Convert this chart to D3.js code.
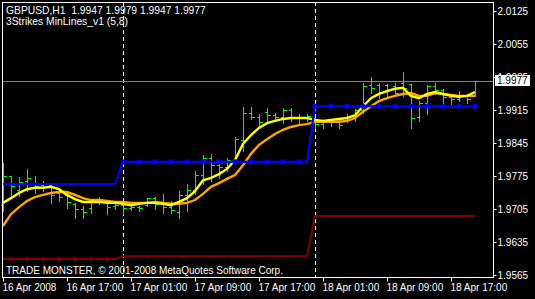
<!DOCTYPE html>
<html><head><meta charset="utf-8">
<script src="https://cdn.jsdelivr.net/npm/d3@7"></script>
<style>
html,body{margin:0;padding:0;background:#000;}
svg{display:block;}
text{font-family:"Liberation Sans",Arial,sans-serif;font-size:10px;fill:#fff;}
</style></head><body>
<svg id="c" width="535" height="299"></svg>
<script>
// ---------- data ----------
const symbolTitle = "GBPUSD,H1  1.9947 1.9979 1.9947 1.9977";
const indicatorTitle = "3Strikes MinLines_v1 (5,8)";
const copyright = "TRADE MONSTER, \u00A9 2001-2008 MetaQuotes Software Corp.";

const firstBar = new Date(Date.UTC(2008, 3, 16, 9));
const lastBar = new Date(Date.UTC(2008, 3, 18, 20));
const times = d3.utcHour.range(firstBar, d3.utcHour.offset(lastBar, 1));

const open = [1.9713,1.9775,1.9745,1.9764,1.9760,1.9756,1.9756,1.9739,1.9735,1.9716,
1.9705,1.9707,1.9724,1.9720,1.9711,1.9713,1.9707,1.9709,1.9713,1.9728,
1.9716,1.9709,1.9699,1.9735,1.9745,1.9777,1.9813,1.9798,1.9794,1.9809,
1.9851,1.9909,1.9900,1.9911,1.9904,1.9900,1.9915,1.9900,1.9898,1.9898,
1.9885,1.9890,1.9892,1.9894,1.9902,1.9915,1.9968,1.9968,1.9968,1.9966,
1.9972,1.9970,1.9900,1.9930,1.9966,1.9957,1.9943,1.9938,1.9945,1.9947];
const high = [1.9805,1.9777,1.9775,1.9792,1.9777,1.9766,1.9760,1.9750,1.9745,1.9720,
1.9713,1.9728,1.9733,1.9724,1.9720,1.9720,1.9713,1.9713,1.9730,1.9733,
1.9739,1.9724,1.9745,1.9760,1.9788,1.9822,1.9824,1.9811,1.9815,1.9860,
1.9923,1.9923,1.9909,1.9921,1.9911,1.9921,1.9921,1.9909,1.9909,1.9900,
1.9894,1.9896,1.9900,1.9909,1.9919,1.9974,1.9987,1.9974,1.9972,1.9974,
1.9998,1.9972,1.9936,1.9970,1.9974,1.9962,1.9951,1.9957,1.9951,1.9979];
const low = [1.9703,1.9730,1.9735,1.9745,1.9741,1.9745,1.9720,1.9724,1.9709,1.9688,
1.9688,1.9699,1.9718,1.9696,1.9707,1.9696,1.9705,1.9703,1.9713,1.9707,
1.9699,1.9699,1.9688,1.9703,1.9739,1.9760,1.9766,1.9773,1.9788,1.9805,
1.9830,1.9898,1.9879,1.9894,1.9898,1.9890,1.9894,1.9890,1.9894,1.9879,
1.9879,1.9883,1.9879,1.9892,1.9894,1.9911,1.9953,1.9943,1.9943,1.9947,
1.9947,1.9879,1.9894,1.9909,1.9951,1.9930,1.9930,1.9936,1.9932,1.9947];
const close = [1.9775,1.9754,1.9762,1.9771,1.9754,1.9760,1.9735,1.9730,1.9720,1.9705,
1.9699,1.9724,1.9726,1.9709,1.9713,1.9707,1.9709,1.9707,1.9728,1.9716,
1.9709,1.9703,1.9735,1.9745,1.9777,1.9813,1.9798,1.9794,1.9809,1.9853,
1.9909,1.9900,1.9890,1.9904,1.9900,1.9915,1.9900,1.9898,1.9902,1.9885,
1.9890,1.9892,1.9883,1.9902,1.9915,1.9966,1.9962,1.9953,1.9957,1.9951,
1.9962,1.9898,1.9930,1.9966,1.9957,1.9943,1.9938,1.9945,1.9938,1.9977];

const maFast = [1.9718,1.9728,1.9739,1.9747,1.9750,1.9750,1.9752,1.9747,1.9735,1.9726,
1.9720,1.9720,1.9720,1.9718,1.9718,1.9716,1.9713,1.9716,1.9718,1.9718,
1.9716,1.9713,1.9720,1.9728,1.9743,1.9766,1.9771,1.9779,1.9790,1.9809,
1.9843,1.9862,1.9877,1.9887,1.9892,1.9896,1.9898,1.9898,1.9898,1.9894,
1.9892,1.9894,1.9896,1.9898,1.9904,1.9923,1.9940,1.9949,1.9955,1.9960,
1.9962,1.9945,1.9940,1.9949,1.9953,1.9949,1.9945,1.9943,1.9945,1.9953];
const maSlow = [1.9669,1.9694,1.9709,1.9722,1.9730,1.9735,1.9739,1.9741,1.9741,1.9735,
1.9728,1.9724,1.9724,1.9722,1.9720,1.9720,1.9718,1.9718,1.9718,1.9720,
1.9718,1.9716,1.9716,1.9718,1.9724,1.9737,1.9752,1.9760,1.9769,1.9777,
1.9798,1.9822,1.9841,1.9853,1.9864,1.9873,1.9879,1.9883,1.9885,1.9890,
1.9890,1.9890,1.9890,1.9892,1.9898,1.9911,1.9923,1.9934,1.9940,1.9945,
1.9949,1.9951,1.9945,1.9945,1.9951,1.9949,1.9947,1.9945,1.9945,1.9945];

const strikeHigh = [1.9758,1.9758,1.9758,1.9758,1.9758,1.9758,1.9758,1.9758,1.9758,1.9758,
1.9758,1.9758,1.9758,1.9758,1.9758,1.9805,1.9805,1.9805,1.9805,1.9805,
1.9805,1.9805,1.9805,1.9805,1.9805,1.9805,1.9805,1.9805,1.9805,1.9805,
1.9805,1.9805,1.9805,1.9805,1.9805,1.9805,1.9805,1.9805,1.9805,1.9923,
1.9923,1.9923,1.9923,1.9923,1.9923,1.9923,1.9923,1.9923,1.9923,1.9923,
1.9923,1.9923,1.9923,1.9923,1.9923,1.9923,1.9923,1.9923,1.9923,1.9923];
const strikeLow = [1.9599,1.9599,1.9599,1.9599,1.9599,1.9599,1.9599,1.9599,1.9599,1.9599,
1.9599,1.9599,1.9599,1.9599,1.9599,1.9605,1.9605,1.9605,1.9605,1.9605,
1.9605,1.9605,1.9605,1.9605,1.9605,1.9605,1.9605,1.9605,1.9605,1.9605,
1.9605,1.9605,1.9605,1.9605,1.9605,1.9605,1.9605,1.9605,1.9605,1.9690,
1.9690,1.9690,1.9690,1.9690,1.9690,1.9690,1.9690,1.9690,1.9690,1.9690,
1.9690,1.9690,1.9690,1.9690,1.9690,1.9690,1.9690,1.9690,1.9690,1.9690];
const strikeHighMarkers = [15,17,19,21,23,25,27,29,31,33,35,37,39,41,43,45,47,49,51,53,55,57,59];
const strikeLowMarkers = [1,3,5,7,9,11,13];

const bidPrice = 1.9977;
const priceTicks = [2.0125,2.0055,1.9985,1.9915,1.9845,1.9775,1.9705,1.9635,1.9565];
const timeTicks = ["2008-04-16T09:00Z","2008-04-16T17:00Z","2008-04-17T01:00Z","2008-04-17T09:00Z",
                   "2008-04-17T17:00Z","2008-04-18T01:00Z","2008-04-18T09:00Z","2008-04-18T17:00Z"];
const timeTickLabels = ["16 Apr 2008","16 Apr 17:00","17 Apr 01:00","17 Apr 09:00",
                        "17 Apr 17:00","18 Apr 01:00","18 Apr 09:00","18 Apr 17:00"];
const daySeparators = ["2008-04-17T00:00Z","2008-04-18T00:00Z"];

// ---------- layout ----------
const plot = {left: 2, top: 2, right: 493, bottom: 277};
const svg = d3.select("#c");
svg.append("rect").attr("width",535).attr("height",299).attr("fill","#000");

const x = d3.scaleUtc().domain([firstBar, lastBar]).range([3, 475]);
const y = d3.scaleLinear().domain([1.9565, 2.0125]).range([275, 11]);
const px = v => Math.round(x(v)) + 0.5;
const py = v => Math.round(y(v)) + 0.5;

const bars = times.map((t,i) => ({t, o:open[i], h:high[i], l:low[i], c:close[i]}));

// day separators
svg.append("g").selectAll("line").data(daySeparators).join("line")
  .attr("x1", d => px(new Date(d))).attr("x2", d => px(new Date(d)))
  .attr("y1", plot.top).attr("y2", plot.bottom)
  .attr("stroke","#fff").attr("stroke-dasharray","4,3");

// bid line
svg.append("line").attr("x1",plot.left).attr("x2",plot.right)
  .attr("y1",py(bidPrice)).attr("y2",py(bidPrice))
  .attr("stroke","#778899");

// OHLC bars
const gb = svg.append("g").attr("stroke","#00ff00").attr("shape-rendering","crispEdges");
gb.selectAll(".hl").data(bars).join("line")
  .attr("x1", d => px(d.t)).attr("x2", d => px(d.t))
  .attr("y1", d => py(d.h)).attr("y2", d => py(d.l)+1);
gb.selectAll(".o").data(bars).join("line").attr("class","o")
  .attr("x1", d => px(d.t)-3).attr("x2", d => px(d.t))
  .attr("y1", d => py(d.o)).attr("y2", d => py(d.o));
gb.selectAll(".c").data(bars).join("line").attr("class","c")
  .attr("x1", d => px(d.t)).attr("x2", d => px(d.t)+3)
  .attr("y1", d => py(d.c)).attr("y2", d => py(d.c));

const lineOf = arr => d3.line().x((d,i) => x(times[i])).y(d => y(d))(arr);

// lower strike line (maroon)
svg.append("path").attr("d", lineOf(strikeLow)).attr("fill","none")
  .attr("stroke","#800000").attr("stroke-width",2);
svg.append("g").selectAll("circle").data(strikeLowMarkers).join("circle")
  .attr("cx", i => x(times[i])).attr("cy", i => y(strikeLow[i])).attr("r",2.2)
  .attr("fill","#800000");

// moving averages
svg.append("path").attr("d", lineOf(maSlow)).attr("fill","none")
  .attr("stroke","#ffa500").attr("stroke-width",2.4);
svg.append("path").attr("d", lineOf(maFast)).attr("fill","none")
  .attr("stroke","#ffff00").attr("stroke-width",2.4);

// upper strike line (blue)
svg.append("path").attr("d", lineOf(strikeHigh)).attr("fill","none")
  .attr("stroke","#0000ff").attr("stroke-width",2.2);
svg.append("g").selectAll("circle").data(strikeHighMarkers).join("circle")
  .attr("cx", i => x(times[i])).attr("cy", i => y(strikeHigh[i])).attr("r",2.6)
  .attr("fill","#0000ff");

// frame
svg.append("rect").attr("x",plot.left+0.5).attr("y",plot.top+0.5)
  .attr("width",plot.right-plot.left).attr("height",plot.bottom-plot.top)
  .attr("fill","none").attr("stroke","#fff");

// price axis
const ay = svg.append("g").attr("transform",`translate(${plot.right+0.5},0)`)
  .call(d3.axisRight(y).tickValues(priceTicks).tickSize(3).tickPadding(1).tickFormat(d3.format(".4f")));
ay.select(".domain").remove();
ay.selectAll(".tick line").attr("stroke","#fff");
ay.selectAll(".tick text").attr("fill","#fff").style("font-family","Liberation Sans, Arial, sans-serif").style("font-size","10px");

// time axis
const tickDates = timeTicks.map(d => new Date(d));
const ax = svg.append("g").attr("transform",`translate(0,${plot.bottom+0.5})`)
  .call(d3.axisBottom(x).tickValues(tickDates).tickSize(4).tickPadding(2)
        .tickFormat((d,i) => timeTickLabels[i]));
ax.select(".domain").remove();
ax.selectAll(".tick line").attr("stroke","#fff");
ax.selectAll(".tick text").attr("fill","#fff").attr("text-anchor","start").attr("x",-1)
  .style("font-family","Liberation Sans, Arial, sans-serif").style("font-size","10px");

// bid label (covers the 1.9985 tick label, as in the terminal)
const bg = svg.append("g");
bg.append("rect").attr("x",495).attr("y",Math.round(y(bidPrice))-6).attr("width",35).attr("height",11).attr("fill","#fff");
bg.append("text").attr("x",497).attr("y",y(bidPrice)).attr("dy","0.3em")
  .style("fill","#000").text(d3.format(".4f")(bidPrice));

// titles
svg.append("text").attr("x",6).attr("y",14).style("white-space","pre").style("font-size","10.3px").text(symbolTitle);
svg.append("text").attr("x",6).attr("y",25).style("font-size","10.3px").text(indicatorTitle);
svg.append("text").attr("x",6).attr("y",274).text(copyright);
</script>
</body></html>
